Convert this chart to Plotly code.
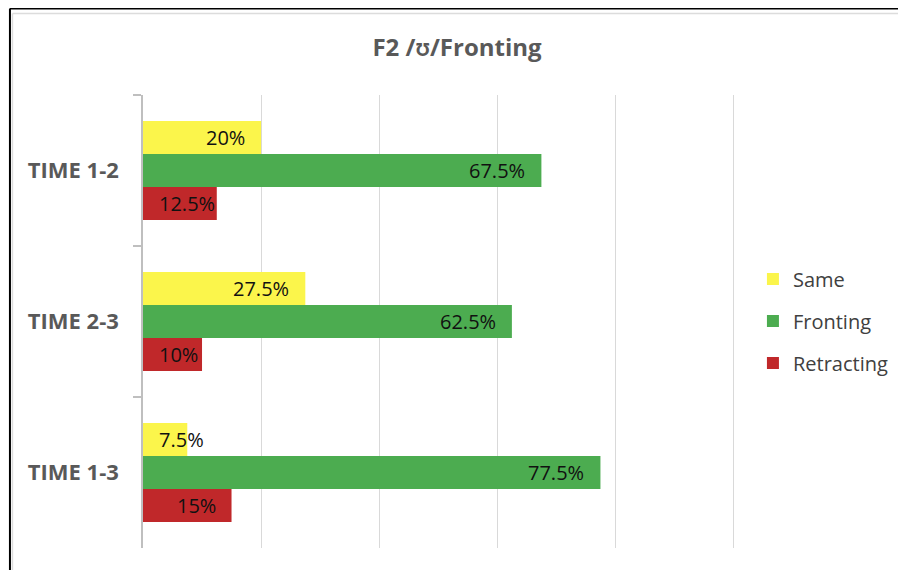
import plotly.graph_objects as go

categories = ["TIME 1-2", "TIME 2-3", "TIME 1-3"]
series_names = ["Same", "Fronting", "Retracting"]
same = [20, 27.5, 7.5]
fronting = [67.5, 62.5, 77.5]
retracting = [12.5, 10, 15]
colors = ["#fbf54b", "#4cac50", "#c0282a"]

FONT = "Open Sans, Lato, DejaVu Sans"

# the page body adds an 8px margin, so work in screen pixels and subtract it
OFF = 8
W, H = 906 - OFF, 570 - OFF
L, T = 143 - OFF, 95 - OFF
R = W - (737 - OFF)
B = H - (548 - OFF)
plot_w = W - L - R
plot_h = H - T - B


def px_x(px):
    return (px - OFF - L) / plot_w


def px_y(py):
    return (H - B - (py - OFF)) / plot_h


fig = go.Figure()
all_values = [same, fronting, retracting]
for name, vals, col in zip(series_names, all_values, colors):
    fig.add_trace(
        go.Bar(
            y=categories,
            x=vals,
            name=name,
            orientation="h",
            marker={"color": col, "line": {"width": 0}},
            legendgroup=name,
            hoverinfo="x+y",
        )
    )

# data labels placed like Excel "inside end"
bargap = 0.345
bar_px = plot_h / len(categories) * (1 - bargap) / len(series_names)
label_font = {"family": FONT, "size": 20, "color": "#111111"}
for i, vals in enumerate(all_values):
    shift = (1 - i) * bar_px
    for cat, v in zip(categories, vals):
        label = f"{v:g}%"
        if v < 15:
            fig.add_annotation(x=0, y=cat, text=label, xanchor="left", xshift=14,
                               yshift=shift, showarrow=False, font=label_font)
        else:
            fig.add_annotation(x=v, y=cat, text=label, xanchor="right", xshift=-14,
                               yshift=shift, showarrow=False, font=label_font)

# picture frame (black) and inner chart-area border (light grey)
fig.add_shape(type="line", xref="paper", yref="paper", x0=px_x(9.5), x1=px_x(906),
              y0=px_y(8.5), y1=px_y(8.5), line={"color": "#000000", "width": 2})
fig.add_shape(type="line", xref="paper", yref="paper", x0=px_x(9.5), x1=px_x(9.5),
              y0=px_y(8.5), y1=px_y(570), line={"color": "#000000", "width": 2})
fig.add_shape(type="line", xref="paper", yref="paper", x0=px_x(12), x1=px_x(906),
              y0=px_y(13.5), y1=px_y(13.5), line={"color": "#dcdcdc", "width": 1.5})
fig.add_shape(type="line", xref="paper", yref="paper", x0=px_x(12), x1=px_x(12),
              y0=px_y(13.5), y1=px_y(570), line={"color": "#dcdcdc", "width": 1.5})

fig.update_layout(
    width=W,
    height=H,
    margin={"l": L, "r": R, "t": T, "b": B},
    paper_bgcolor="white",
    plot_bgcolor="white",
    barmode="group",
    bargap=bargap,
    bargroupgap=0,
    title={
        "text": "<b>F2 /ʊ/Fronting</b>",
        "x": 0.5,
        "xanchor": "center",
        "y": 1 - (48 - OFF) / H,
        "yanchor": "middle",
        "font": {"family": FONT, "size": 24, "color": "#595959"},
    },
    legend={
        "x": px_x(755),
        "xanchor": "left",
        "y": px_y(321),
        "yanchor": "middle",
        "tracegroupgap": 13,
        "font": {"family": FONT, "size": 20, "color": "#404040"},
        "bgcolor": "rgba(0,0,0,0)",
    },
    showlegend=True,
)
fig.update_xaxes(
    range=[0, 100.3],
    dtick=20,
    showgrid=True,
    gridcolor="#d9d9d9",
    gridwidth=1,
    showticklabels=False,
    zeroline=False,
    showline=False,
    ticks="",
)
fig.update_yaxes(
    type="category",
    autorange="reversed",
    showline=True,
    linecolor="#bfbfbf",
    linewidth=1.5,
    ticks="outside",
    tickson="boundaries",
    ticklen=8,
    tickcolor="#bfbfbf",
    tickwidth=1.5,
    ticklabelstandoff=18,
    tickfont={"family": FONT, "size": 22, "color": "#595959", "weight": "bold"},
    showgrid=False,
)

fig.write_html("out.html")
